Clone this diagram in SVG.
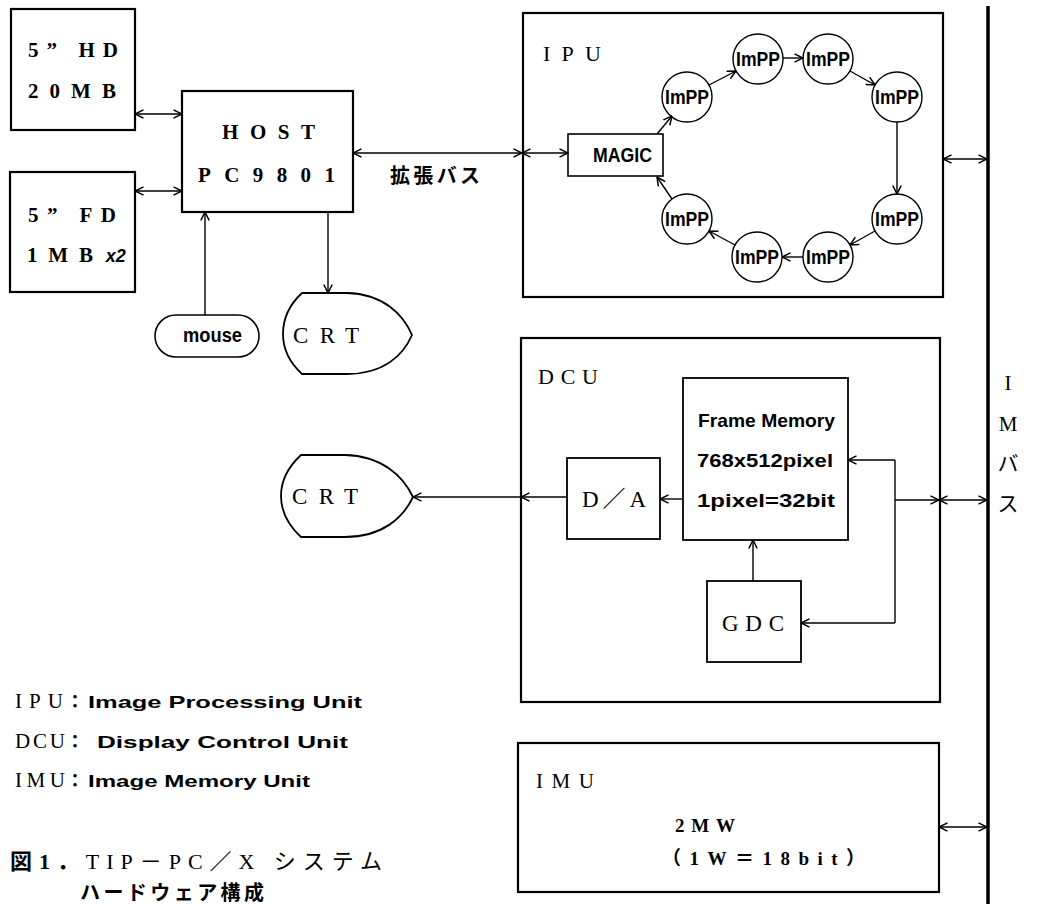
<svg xmlns="http://www.w3.org/2000/svg" width="1043" height="904" viewBox="0 0 1043 904">
<style>
.box{fill:none;stroke:#000;stroke-width:2.2}
.thin{fill:none;stroke:#000;stroke-width:1.4}
.ln{fill:none;stroke:#000;stroke-width:1.4}
.serif{font-family:"Liberation Serif","Noto Sans CJK JP",serif;fill:#000}
.sb{font-family:"Liberation Serif","Noto Sans CJK JP",serif;font-weight:bold;fill:#000}
.dot{font-family:"Liberation Sans Narrow","Liberation Sans",Arial,sans-serif;font-weight:bold;fill:#000}
.cjk{font-family:"Noto Sans CJK JP",sans-serif;font-weight:bold;fill:#000}
</style>
<defs>
<marker id="ah" viewBox="0 0 10 10" refX="9.5" refY="5" markerWidth="10" markerHeight="10" markerUnits="userSpaceOnUse" orient="auto-start-reverse">
<path d="M1,0.8 L9.5,5 L1,9.2" fill="none" stroke="#000" stroke-width="1.5"/>
</marker>
</defs>
<rect width="1043" height="904" fill="#fff"/>

<g id="hd">
<rect class="box" x="11" y="9" width="124" height="121"/>
<text class="sb" x="28" y="57" font-size="21" textLength="90" lengthAdjust="spacing">5” HD</text>
<text class="sb" x="28" y="98" font-size="21" textLength="88" lengthAdjust="spacing">20MB</text>
</g>
<g id="fd">
<rect class="box" x="10" y="172" width="125" height="120"/>
<text class="sb" x="28" y="222" font-size="21" textLength="88" lengthAdjust="spacing">5” FD</text>
<text class="sb" x="27" y="262" font-size="21"><tspan textLength="66" lengthAdjust="spacing">1MB</tspan><tspan font-family="Liberation Sans,sans-serif" font-style="italic" font-size="18" dx="2">x2</tspan></text>
</g>
<g id="host">
<rect class="box" x="182" y="91" width="171" height="121"/>
<text class="sb" x="222" y="139" font-size="21" textLength="93" lengthAdjust="spacing">HOST</text>
<text class="sb" x="198" y="182" font-size="21" textLength="137" lengthAdjust="spacing">PC9801</text>
</g>
<g id="mouse">
<rect class="box" x="155" y="315" width="104" height="42" rx="21" ry="21" style="stroke-width:1.6"/>
<text class="dot" x="183" y="342" font-size="20" textLength="59" lengthAdjust="spacingAndGlyphs">mouse</text>
</g>
<g id="crt1">
<path class="thin" style="stroke-width:1.8" d="M302,293 L347,293 C383,294 403,314 412,335 C403,356 383,374 347,374 L302,374 C289,362 283,349 283,334 C283,319 289,305 302,293 Z"/>
<text class="serif" x="293" y="343" font-size="23" textLength="66" lengthAdjust="spacing">CRT</text>
</g>
<g id="label-bus">
<text class="cjk" x="390" y="183" font-size="20" textLength="90" lengthAdjust="spacing">拡張バス</text>
</g>

<g id="ipu">
<rect class="box" x="523" y="13" width="420" height="284"/>
<text class="serif" x="543" y="61" font-size="22" textLength="58" lengthAdjust="spacing">IPU</text>
</g>
<g id="magic">
<rect class="thin" style="stroke-width:1.6" x="568" y="134" width="95" height="42"/>
<text class="dot" x="593" y="162" font-size="21" textLength="59" lengthAdjust="spacingAndGlyphs">MAGIC</text>
</g>
<g id="impp1"><circle class="thin" cx="687" cy="97" r="25"/><text class="dot" x="687" y="104" font-size="20" text-anchor="middle" textLength="44" lengthAdjust="spacingAndGlyphs">ImPP</text></g>
<g id="impp2"><circle class="thin" cx="758" cy="59" r="25"/><text class="dot" x="758" y="66" font-size="20" text-anchor="middle" textLength="44" lengthAdjust="spacingAndGlyphs">ImPP</text></g>
<g id="impp3"><circle class="thin" cx="828" cy="59" r="25"/><text class="dot" x="828" y="66" font-size="20" text-anchor="middle" textLength="44" lengthAdjust="spacingAndGlyphs">ImPP</text></g>
<g id="impp4"><circle class="thin" cx="897" cy="97" r="25"/><text class="dot" x="897" y="104" font-size="20" text-anchor="middle" textLength="44" lengthAdjust="spacingAndGlyphs">ImPP</text></g>
<g id="impp5"><circle class="thin" cx="897" cy="219" r="25"/><text class="dot" x="897" y="226" font-size="20" text-anchor="middle" textLength="44" lengthAdjust="spacingAndGlyphs">ImPP</text></g>
<g id="impp6"><circle class="thin" cx="828" cy="257" r="25"/><text class="dot" x="828" y="264" font-size="20" text-anchor="middle" textLength="44" lengthAdjust="spacingAndGlyphs">ImPP</text></g>
<g id="impp7"><circle class="thin" cx="757" cy="257" r="25"/><text class="dot" x="757" y="264" font-size="20" text-anchor="middle" textLength="44" lengthAdjust="spacingAndGlyphs">ImPP</text></g>
<g id="impp8"><circle class="thin" cx="687" cy="219" r="25"/><text class="dot" x="687" y="226" font-size="20" text-anchor="middle" textLength="44" lengthAdjust="spacingAndGlyphs">ImPP</text></g>

<g id="dcu">
<rect class="box" x="521" y="338" width="419" height="364"/>
<text class="serif" x="538" y="384" font-size="22" textLength="60" lengthAdjust="spacing">DCU</text>
</g>
<g id="frame">
<rect class="thin" style="stroke-width:1.8" x="683" y="378" width="165" height="162"/>
<text class="dot" x="698" y="427" font-size="19" textLength="137" lengthAdjust="spacingAndGlyphs">Frame Memory</text>
<text class="dot" x="697" y="467" font-size="19" textLength="136" lengthAdjust="spacingAndGlyphs">768x512pixel</text>
<text class="dot" x="697" y="507" font-size="19" textLength="138" lengthAdjust="spacingAndGlyphs">1pixel=32bit</text>
</g>
<g id="da">
<rect class="thin" style="stroke-width:1.8" x="567" y="458" width="93" height="81"/>
<text class="serif" x="582" y="507" font-size="23" textLength="64" lengthAdjust="spacing">D／A</text>
</g>
<g id="gdc">
<rect class="thin" style="stroke-width:1.8" x="707" y="581" width="94" height="81"/>
<text class="serif" x="722" y="631" font-size="23" textLength="62" lengthAdjust="spacing">GDC</text>
</g>
<g id="crt2">
<path class="thin" style="stroke-width:1.8" d="M301,455 L345,455 C382,456 403,476 413,497 C403,518 382,537 345,537 L301,537 C288,525 281,512 281,496 C281,481 288,467 301,455 Z"/>
<text class="serif" x="292" y="504" font-size="23" textLength="66" lengthAdjust="spacing">CRT</text>
</g>

<g id="imu">
<rect class="box" x="518" y="743" width="421" height="149"/>
<text class="serif" x="536" y="788" font-size="21" textLength="58" lengthAdjust="spacing">IMU</text>
<text class="sb" x="675" y="832" font-size="19" textLength="60" lengthAdjust="spacing">2MW</text>
<text class="sb" x="662" y="865" font-size="19" textLength="203" lengthAdjust="spacing">（1W＝18bit）</text>
</g>

<g id="imbus">
<line x1="988" y1="6" x2="988" y2="904" stroke="#000" stroke-width="3.5"/>
<text class="serif" x="1008" y="390" font-size="21" text-anchor="middle">I</text>
<text class="serif" x="1008" y="431" font-size="21" text-anchor="middle">M</text>
<text class="serif" x="1008" y="471" font-size="21" text-anchor="middle">バ</text>
<text class="serif" x="1008" y="511" font-size="21" text-anchor="middle">ス</text>
</g>

<g id="connectors">
<line class="ln" x1="135" y1="114" x2="182" y2="114" marker-start="url(#ah)" marker-end="url(#ah)"/>
<line class="ln" x1="135" y1="191" x2="182" y2="191" marker-start="url(#ah)" marker-end="url(#ah)"/>
<line class="ln" x1="353" y1="153" x2="522" y2="153" marker-start="url(#ah)" marker-end="url(#ah)"/>
<line class="ln" x1="522" y1="153" x2="568" y2="153" marker-start="url(#ah)" marker-end="url(#ah)"/>
<line class="ln" x1="205" y1="315" x2="205" y2="212" marker-end="url(#ah)"/>
<line class="ln" x1="328" y1="212" x2="328" y2="293" marker-end="url(#ah)"/>
<line class="ln" x1="657" y1="134" x2="672" y2="116" marker-end="url(#ah)"/>
<line class="ln" x1="709" y1="85" x2="736" y2="71" marker-end="url(#ah)"/>
<line class="ln" x1="783" y1="58" x2="803" y2="58" marker-end="url(#ah)"/>
<line class="ln" x1="850" y1="71" x2="875" y2="85" marker-end="url(#ah)"/>
<line class="ln" x1="897" y1="122" x2="897" y2="194" marker-end="url(#ah)"/>
<line class="ln" x1="875" y1="231" x2="850" y2="245" marker-end="url(#ah)"/>
<line class="ln" x1="803" y1="257" x2="782" y2="257" marker-end="url(#ah)"/>
<line class="ln" x1="735" y1="245" x2="709" y2="231" marker-end="url(#ah)"/>
<line class="ln" x1="672" y1="199" x2="657" y2="177" marker-end="url(#ah)"/>
<line class="ln" x1="943" y1="159" x2="987" y2="159" marker-start="url(#ah)" marker-end="url(#ah)"/>
<line class="ln" x1="683" y1="499" x2="660" y2="499" marker-end="url(#ah)"/>
<line class="ln" x1="567" y1="497" x2="521" y2="497" marker-end="url(#ah)"/>
<line class="ln" x1="521" y1="497" x2="413" y2="497" marker-end="url(#ah)"/>
<line class="ln" x1="753" y1="581" x2="753" y2="540" marker-end="url(#ah)"/>
<line class="ln" x1="895" y1="500" x2="939" y2="500" marker-end="url(#ah)"/>
<line class="ln" x1="939" y1="500" x2="987" y2="500" marker-start="url(#ah)" marker-end="url(#ah)"/>
<polyline class="ln" points="895,460 895,623"/>
<line class="ln" x1="895" y1="460" x2="848" y2="460" marker-end="url(#ah)"/>
<line class="ln" x1="895" y1="623" x2="801" y2="623" marker-end="url(#ah)"/>
<line class="ln" x1="939" y1="827" x2="987" y2="827" marker-start="url(#ah)" marker-end="url(#ah)"/>
</g>

<g id="legend">
<text class="serif" x="15" y="708" font-size="21" textLength="48" lengthAdjust="spacing">IPU</text>
<text class="cjk" x="66" y="708" font-size="18">：</text>
<text class="dot" x="88" y="708" font-size="17" textLength="274" lengthAdjust="spacingAndGlyphs">Image Processing Unit</text>
<text class="serif" x="15" y="748" font-size="21" textLength="50" lengthAdjust="spacing">DCU</text>
<text class="cjk" x="66" y="748" font-size="18">：</text>
<text class="dot" x="97" y="748" font-size="17" textLength="251" lengthAdjust="spacingAndGlyphs">Display Control Unit</text>
<text class="serif" x="15" y="787" font-size="21" textLength="50" lengthAdjust="spacing">IMU</text>
<text class="cjk" x="66" y="787" font-size="18">：</text>
<text class="dot" x="88" y="787" font-size="17" textLength="222" lengthAdjust="spacingAndGlyphs">Image Memory Unit</text>
</g>
<g id="caption">
<text class="serif" x="10" y="869" font-size="22" textLength="372" lengthAdjust="spacing"><tspan font-weight="bold">図1．</tspan>TIP－PC／X システム</text>
<text class="cjk" x="80" y="900" font-size="20" textLength="184" lengthAdjust="spacing">ハードウェア構成</text>
</g>
</svg>
